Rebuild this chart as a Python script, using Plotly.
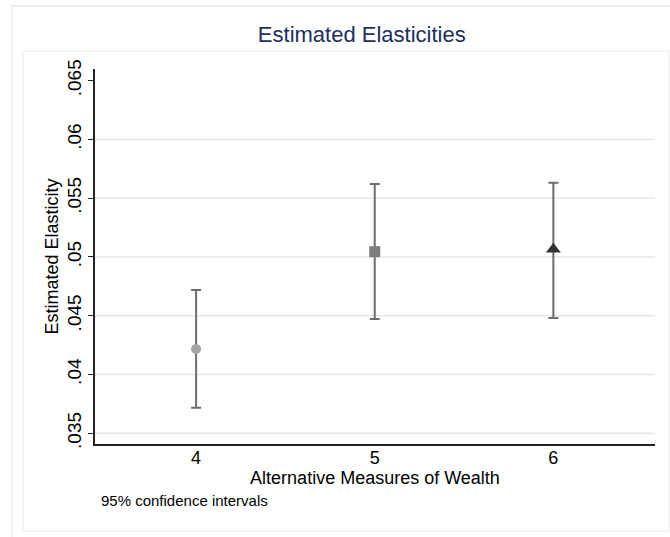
import plotly.graph_objects as go

# Wealth measure index, point estimates and 95% CI bounds
measures = [4, 5, 6]
estimates = [0.04217, 0.05045, 0.05066]
ci_lower = [0.03718, 0.04473, 0.04481]
ci_upper = [0.04719, 0.05621, 0.05632]
symbols = ["circle", "square", "triangle-up"]
marker_colors = ["#a3a3a3", "#7d7d7d", "#333333"]
marker_sizes = [10, 11, 13]

y_ticks = [0.035, 0.04, 0.045, 0.05, 0.055, 0.06, 0.065]
y_tick_text = [".035", ".04", ".045", ".05", ".055", ".06", ".065"]
grid_vals = [0.035, 0.04, 0.045, 0.05, 0.055, 0.06]
x_ticks = [4, 5, 6]

fig = go.Figure()

for i, m in enumerate(measures):
    fig.add_trace(go.Scatter(
        x=[m], y=[estimates[i]],
        mode="markers",
        marker=dict(symbol=symbols[i], color=marker_colors[i], size=marker_sizes[i],
                    line=dict(width=0)),
        error_y=dict(type="data", symmetric=False,
                     array=[ci_upper[i] - estimates[i]],
                     arrayminus=[estimates[i] - ci_lower[i]],
                     color="#6e6e6e", thickness=2, width=5),
        showlegend=False,
        hoverinfo="x+y",
    ))

# light horizontal gridlines
shapes = []
for g in grid_vals:
    shapes.append(dict(type="line", xref="paper", yref="y", x0=0, x1=1, y0=g, y1=g,
                       line=dict(color="#e6e6e6", width=1.5), layer="below"))
# outer graph frame and inner plot-region frame
shapes.append(dict(type="rect", xref="paper", yref="paper",
                   x0=-0.148, x1=1.04, y0=-0.26, y1=1.168,
                   line=dict(color="#e6eef0", width=1.5), layer="below"))
shapes.append(dict(type="rect", xref="paper", yref="paper",
                   x0=-0.1286, x1=1.025, y0=-0.232, y1=1.048,
                   line=dict(color="#eef2f3", width=1.5), layer="below"))

fig.update_layout(
    width=670, height=537,
    margin=dict(l=95, r=15, t=69, b=93),
    paper_bgcolor="white", plot_bgcolor="white",
    font=dict(family="Liberation Sans, Arial, sans-serif", color="#000000"),
    title=dict(text="Estimated Elasticities", x=0.54, xanchor="center",
               y=0.937, yanchor="middle",
               font=dict(size=22, color="#1e2f5c")),
    shapes=shapes,
    xaxis=dict(range=[3.434, 6.569], tickvals=x_ticks, ticktext=[str(v) for v in x_ticks],
               showgrid=False, zeroline=False, showline=True, linecolor="#222222",
               linewidth=1.5, ticks="", tickfont=dict(size=18), ticklabelstandoff=-3,
               title=dict(text="Alternative Measures of Wealth", font=dict(size=18),
                          standoff=0)),
    yaxis=dict(range=[0.03409, 0.06599], tickvals=y_ticks, ticktext=y_tick_text,
               tickangle=-90, showgrid=False, zeroline=False, showline=True,
               linecolor="#222222", linewidth=1.5, ticks="outside", ticklen=5,
               tickcolor="#222222", tickfont=dict(size=19),
               title=dict(text="Estimated Elasticity", font=dict(size=18), standoff=0)),
    annotations=[dict(text="95% confidence intervals", xref="paper", yref="paper",
                      x=0.007, y=-0.152, xanchor="left", yanchor="middle",
                      showarrow=False, font=dict(size=15))],
)

fig.write_html("out.html")
